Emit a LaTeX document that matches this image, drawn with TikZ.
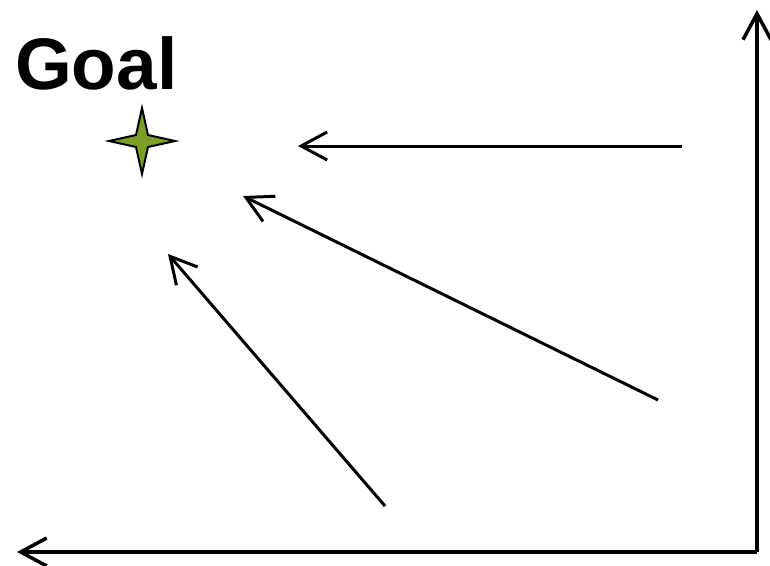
\documentclass[tikz,border=0pt]{standalone}
\usepackage{fontspec}
\setmainfont{Liberation Sans}
\usetikzlibrary{arrows.meta}
\definecolor{stargreen}{RGB}{122,158,38}
\tikzset{
  conn/.style={line width=3pt, -{Straight Barb[length=26pt,width=28pt,line width=3pt]}},
  axis/.style={line width=4pt, -{Straight Barb[length=26pt,width=28pt,line width=3.5pt]}},
  pt/.style={inner sep=0pt, minimum size=0pt}
}
\begin{document}
\begin{tikzpicture}[x=1pt,y=-1pt]
\useasboundingbox (0,0) rectangle (770,565);
% axes
\coordinate (origin) at (757,552);
\coordinate (ytop) at (757,10);
\coordinate (xleft) at (17,552);
\draw[axis] (origin) -- (ytop);
\draw[axis] (origin) -- (xleft);
% goal label
\node[anchor=base west, inner sep=0pt, font=\bfseries\fontsize{73}{80}\selectfont] (goal) at (15,89) {Goal};
% star
\node[pt] (star) at (142,141) {};
\filldraw[fill=stargreen, draw=black, line width=2pt]
  (142,108) -- (148,135) -- (175,141) -- (148,147) -- (142,174)
  -- (136,147) -- (109,141) -- (136,135) -- cycle;
% arrows
\coordinate (a1s) at (682,146); \coordinate (a1e) at (298,146);
\coordinate (a2s) at (658,400); \coordinate (a2e) at (243,196);
\coordinate (a3s) at (385,506); \coordinate (a3e) at (168,254);
\draw[conn] (a1s) -- (a1e);
\draw[conn] (a2s) -- (a2e);
\draw[conn] (a3s) -- (a3e);
\end{tikzpicture}
\end{document}
